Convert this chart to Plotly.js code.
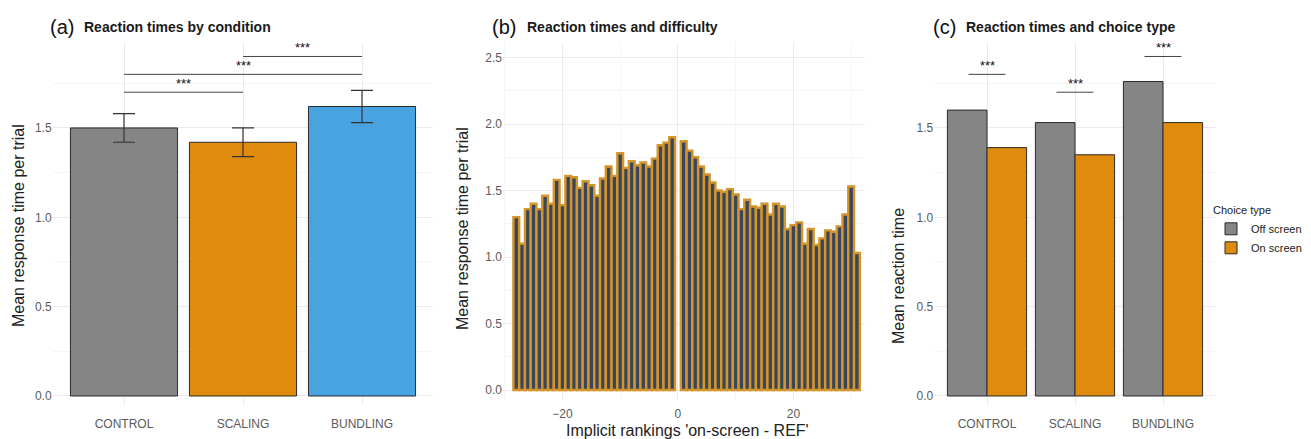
<!DOCTYPE html>
<html>
<head>
<meta charset="utf-8">
<script src="https://cdn.plot.ly/plotly-3.0.1.min.js"></script>
<style>html,body{margin:0;padding:0;background:#fff;overflow:hidden;}#chart{width:1311px;height:439px;overflow:hidden;}</style>
</head>
<body>
<div id="chart"></div>
<script>
// ---- Data ----
const condLabels = ['CONTROL', 'SCALING', 'BUNDLING'];
const meanRT = [1.50, 1.42, 1.62];
const seRT = [0.08, 0.08, 0.09];

const sigAFrom = [0, 0, 1];
const sigATo = [1, 2, 2];
const sigAHeight = [1.70, 1.80, 1.90];
const sigALabel = ['***', '***', '***'];

const rankX = [-28,-27,-26,-25,-24,-23,-22,-21,-20,-19,-18,-17,-16,-15,-14,-13,-12,-11,-10,-9,-8,-7,-6,-5,-4,-3,-2,-1,
               1,2,3,4,5,6,7,8,9,10,11,12,13,14,15,16,17,18,19,20,21,22,23,24,25,26,27,28,29,30,31];
const rankRT = [1.30,1.10,1.36,1.40,1.36,1.46,1.40,1.58,1.39,1.61,1.60,1.52,1.57,1.54,1.46,1.59,1.68,1.61,1.78,1.67,1.72,1.69,1.71,1.68,1.74,1.84,1.86,1.90,
                1.87,1.80,1.75,1.68,1.62,1.56,1.50,1.49,1.51,1.47,1.36,1.43,1.38,1.37,1.40,1.32,1.40,1.38,1.21,1.24,1.26,1.10,1.21,1.09,1.14,1.20,1.19,1.23,1.32,1.53,1.03];

const choiceCats = ['CONTROL', 'SCALING', 'BUNDLING'];
const offScreen = [1.60, 1.53, 1.76];
const onScreen = [1.39, 1.35, 1.53];
const sigCHeight = [1.80, 1.70, 1.90];
const sigCLabel = ['***', '***', '***'];

// ---- Styling helpers ----
const W = 1311, H = 439;
const px = v => v / W;
const py = v => 1 - v / H;
const FONT = 'Liberation Sans, Arial, sans-serif';
const GRID = '#ebebeb', MINOR = '#f5f5f5', TICKC = '#5a5a5a';
const GRAY = '#858585', ORANGE = '#DF8C0E', BLUE = '#48A3E0';

const traces = [
  {
    type: 'bar', x: condLabels, y: meanRT, xaxis: 'x', yaxis: 'y', showlegend: false,
    marker: {color: [GRAY, ORANGE, BLUE], line: {color: '#2a2a2a', width: 1}},
    error_y: {type: 'data', array: seRT, visible: true, color: '#333333', thickness: 1.2, width: 11},
    hoverinfo: 'x+y'
  },
  {
    type: 'bar', x: rankX, y: rankRT, xaxis: 'x2', yaxis: 'y2', showlegend: false, width: 1,
    marker: {color: '#3a465a', line: {color: '#D4952C', width: 2.4}},
  },
  {
    type: 'bar', name: 'Off screen', x: choiceCats, y: offScreen, xaxis: 'x3', yaxis: 'y3',
    marker: {color: GRAY, line: {color: '#2a2a2a', width: 1}}
  },
  {
    type: 'bar', name: 'On screen', x: choiceCats, y: onScreen, xaxis: 'x3', yaxis: 'y3',
    marker: {color: ORANGE, line: {color: '#2a2a2a', width: 1}}
  }
];

const yDomA = [py(405), py(42)];
const yDomB = [py(400), py(42)];

function yaxis(domain, range, anchor) {
  return {
    domain: domain, range: range, anchor: anchor, dtick: 0.5, tick0: 0, tickformat: '.1f',
    showgrid: true, gridcolor: GRID, gridwidth: 1, zeroline: false, showline: false, ticks: '',
    tickfont: {family: FONT, size: 12, color: TICKC},
    minor: {dtick: 0.25, showgrid: true, gridcolor: MINOR, gridwidth: 1},
    fixedrange: true
  };
}
function xcat(domain, anchor) {
  return {
    domain: domain, range: [-0.6, 2.6], anchor: anchor, type: 'category',
    showgrid: true, gridcolor: GRID, zeroline: false, showline: false, ticks: '',
    tickfont: {family: FONT, size: 12, color: TICKC}, ticklabelstandoff: 10, fixedrange: true
  };
}

const shapes = [];
const annotations = [];
for (let i = 0; i < sigAFrom.length; i++) {
  shapes.push({type: 'line', xref: 'x', yref: 'y', x0: sigAFrom[i], x1: sigATo[i], y0: sigAHeight[i], y1: sigAHeight[i],
               line: {color: '#444444', width: 1}});
  annotations.push({xref: 'x', yref: 'y', x: (sigAFrom[i] + sigATo[i]) / 2, y: sigAHeight[i], text: sigALabel[i],
                    showarrow: false, yanchor: 'bottom', yshift: -1, font: {family: FONT, size: 13, color: '#111'}});
}
for (let i = 0; i < choiceCats.length; i++) {
  shapes.push({type: 'line', xref: 'x3', yref: 'y3', x0: i - 0.21, x1: i + 0.21, y0: sigCHeight[i], y1: sigCHeight[i],
               line: {color: '#444444', width: 1}});
  annotations.push({xref: 'x3', yref: 'y3', x: i, y: sigCHeight[i], text: sigCLabel[i],
                    showarrow: false, yanchor: 'bottom', yshift: -1, font: {family: FONT, size: 13, color: '#111'}});
}

function title(xLetter, letter, xText, text) {
  annotations.push({xref: 'paper', yref: 'paper', x: px(xLetter), y: py(27), xanchor: 'left', yanchor: 'middle',
                    text: letter, showarrow: false, font: {family: FONT, size: 20, color: '#111'}});
  annotations.push({xref: 'paper', yref: 'paper', x: px(xText), y: py(27), xanchor: 'left', yanchor: 'middle',
                    text: '<b>' + text + '</b>', showarrow: false, font: {family: FONT, size: 14, color: '#1a1a1a'}});
}
title(48, '(a)', 82, 'Reaction times by condition');
title(490, '(b)', 525, 'Reaction times and difficulty');
title(931, '(c)', 964, 'Reaction times and choice type');

function ytitle(x, y, text) {
  annotations.push({xref: 'paper', yref: 'paper', x: px(x), y: py(y), xanchor: 'center', yanchor: 'middle',
                    textangle: -90, text: text, showarrow: false, font: {family: FONT, size: 16, color: '#222'}});
}
ytitle(18, 226, 'Mean response time per trial');
ytitle(462, 228, 'Mean response time per trial');
ytitle(898, 276, 'Mean reaction time');
annotations.push({xref: 'paper', yref: 'paper', x: px(687), y: py(430), xanchor: 'center', yanchor: 'middle',
                  text: "Implicit rankings 'on-screen - REF'", showarrow: false, font: {family: FONT, size: 16, color: '#222'}});

const layout = {
  width: W, height: H, margin: {l: 0, r: 0, t: 0, b: 0, autoexpand: false},
  paper_bgcolor: '#ffffff', plot_bgcolor: '#ffffff',
  barmode: 'group', bargap: 0.1, bargroupgap: 0,
  font: {family: FONT},
  xaxis: xcat([px(52.6), px(433.4)], 'y'),
  yaxis: yaxis(yDomA, [-0.0504, 1.981], 'x'),
  xaxis2: {
    domain: [px(503), px(865)], range: [-30.3, 32.4], anchor: 'y2', dtick: 20, tick0: 0,
    showgrid: true, gridcolor: GRID, zeroline: false, showline: false, ticks: '',
    tickfont: {family: FONT, size: 12, color: TICKC}, ticklabelstandoff: 5,
    minor: {dtick: 10, showgrid: true, gridcolor: MINOR}, fixedrange: true
  },
  yaxis2: yaxis(yDomB, [-0.0752, 2.6165], 'x2'),
  xaxis3: xcat([px(934.2), px(1215.8)], 'y3'),
  yaxis3: yaxis(yDomA, [-0.0504, 1.981], 'x3'),
  showlegend: true,
  legend: {
    x: px(1211), y: py(200), xanchor: 'left', yanchor: 'top',
    title: {text: 'Choice type', font: {family: FONT, size: 11, color: '#222'}},
    font: {family: FONT, size: 11, color: '#222'}, bgcolor: 'rgba(0,0,0,0)', borderwidth: 0,
    itemwidth: 30, tracegroupgap: 0
  },
  shapes: shapes,
  annotations: annotations
};

Plotly.newPlot('chart', traces, layout, {displayModeBar: false, staticPlot: true});
</script>
</body>
</html>
